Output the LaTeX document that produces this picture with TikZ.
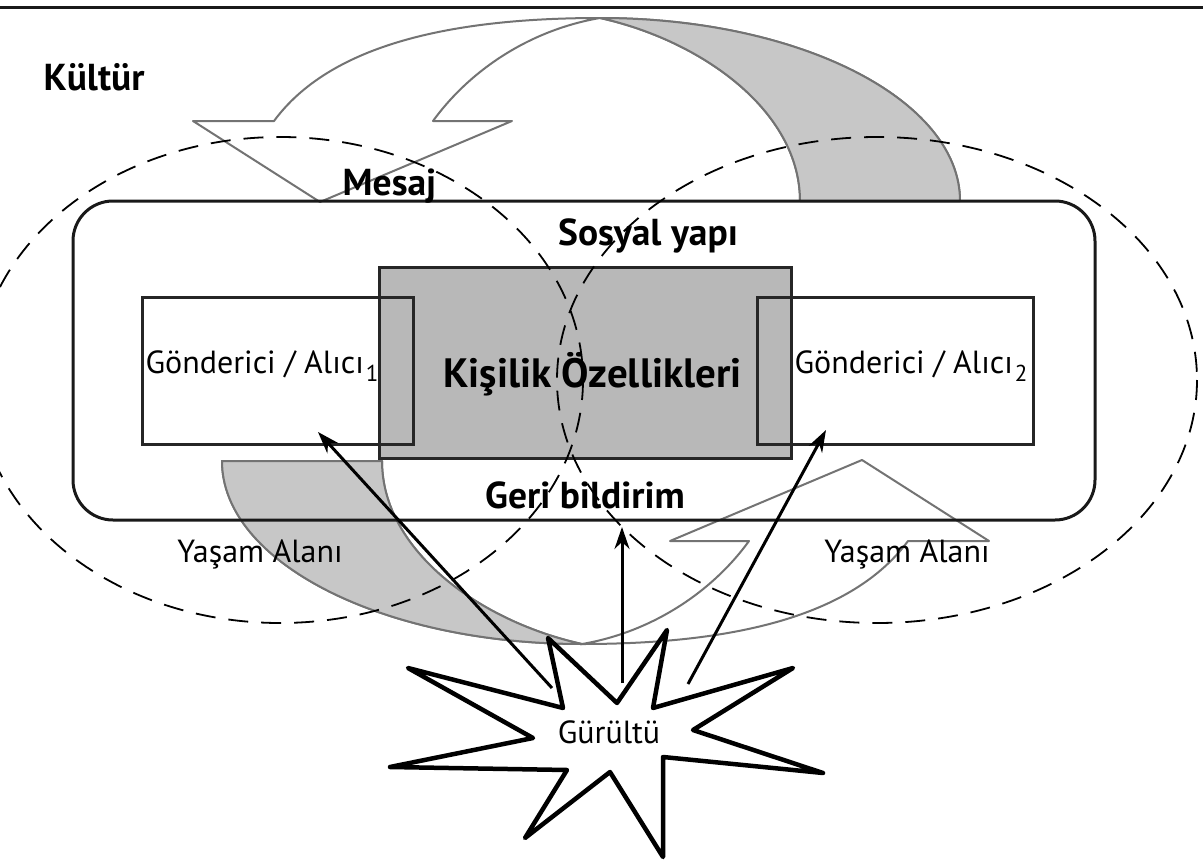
\documentclass[tikz,border=0pt]{standalone}
\usepackage{fontspec}
\setmainfont{PT Sans}
\usepackage{tikz}
\usetikzlibrary{arrows.meta}
\definecolor{ribbon}{gray}{0.45}
\definecolor{shade}{gray}{0.78}
\definecolor{coregray}{gray}{0.72}
\tikzstyle{title} = [font=\bfseries\fontsize{37.5}{42}\selectfont, inner sep=0pt, anchor=base]
\tikzstyle{plain} = [font=\fontsize{32}{36}\selectfont, inner sep=0pt, anchor=base]
\tikzstyle{frame} = [rectangle, rounded corners=40pt, draw=black!90, line width=3pt, minimum width=1022pt, minimum height=319pt]
\tikzstyle{core} = [rectangle, fill=coregray, draw=black!85, line width=3pt, minimum width=412pt, minimum height=191pt]
\tikzstyle{party} = [rectangle, draw=black!85, line width=3pt, minimum height=147pt]
\tikzstyle{zone} = [black, line width=1.8pt, dash pattern=on 20pt off 13pt]
\tikzstyle{band} = [draw=ribbon, line width=2pt, line join=round]
\tikzstyle{arrow} = [line width=3pt, -{Stealth[length=22pt,width=15pt]}]
\tikzstyle{burst} = [draw=black, fill=white, line width=4.5pt, line join=round]
\newcommand{\idx}[1]{\kern2pt\raisebox{-8pt}{\fontsize{23}{25}\selectfont #1}}
\newcommand{\curvedarrow}{%
  \filldraw[band, fill=white] (320,202) -- (193,121) -- (274,121)
    .. controls (330,45) and (450,18) .. (600,18)
    .. controls (800,18) and (960,100) .. (960,201) -- (800,201)
    .. controls (800,110) and (700,40) .. (600,18)
    .. controls (530,30) and (470,70) .. (433,121) -- (512,121) -- cycle;
  \filldraw[band, fill=shade] (600,18)
    .. controls (800,18) and (960,100) .. (960,201) -- (800,201)
    .. controls (800,110) and (700,40) .. (600,18) -- cycle;
}

\begin{document}
\begin{tikzpicture}[x=1pt, y=-1pt]
        \useasboundingbox (0,0) rectangle (1203,862);
        \draw [line width=3pt, black!90] (0,7) -- (1203,7);
        \curvedarrow
        \begin{scope}[rotate around={180:(591,331)}]
            \curvedarrow
        \end{scope}
        \node (outer) [frame] at (584,360.5) {};
        \node (core) [core] at (585,362.5) {};
        \node (box1) [party, minimum width=271pt] at (277.5,370.5) {};
        \node (box2) [party, minimum width=276pt] at (895,370.5) {};
        \draw [zone] (280,380) ellipse [x radius=303, y radius=243];
        \draw [zone] (877,380) ellipse [x radius=320, y radius=243];
        \node (culture) [title] at (94,90) {Kültür};
        \node (message) [title] at (389.5,195) {Mesaj};
        \node (social) [title] at (648,245) {Sosyal yapı};
        \node (persona) [title, font=\bfseries\fontsize{41}{46}\selectfont] at (592.5,387) {Kişilik Özellikleri};
        \node (feedback) [title] at (585,508) {Geri bildirim};
        \node (sender1) [plain] at (262,373) {Gönderici / Alıcı\idx{1}};
        \node (sender2) [plain] at (911,373) {Gönderici / Alıcı\idx{2}};
        \node (life1) [plain] at (260,562) {Yaşam Alanı};
        \node (life2) [plain] at (907,562) {Yaşam Alanı};
        \draw [burst] (408,668) -- (563,708) -- (548,638) -- (617,703) -- (667,630) -- (653,708)
            -- (793,668) -- (693,730) -- (823,773) -- (663,757) -- (663,857) -- (610,772)
            -- (525,838) -- (567,770) -- (390,767) -- (533,738) -- cycle;
        \node (noise) [plain] at (609,743) {Gürültü};
        \coordinate (tail1) at (552,688);
        \coordinate (tail2) at (622,683);
        \coordinate (tail3) at (688,684);
        \coordinate (head1) at (318,432);
        \coordinate (head2) at (622,527);
        \coordinate (head3) at (826,430);
        \draw [arrow] (tail1) -- (head1);
        \draw [arrow] (tail2) -- (head2);
        \draw [arrow] (tail3) -- (head3);
    \end{tikzpicture}
\end{document}
